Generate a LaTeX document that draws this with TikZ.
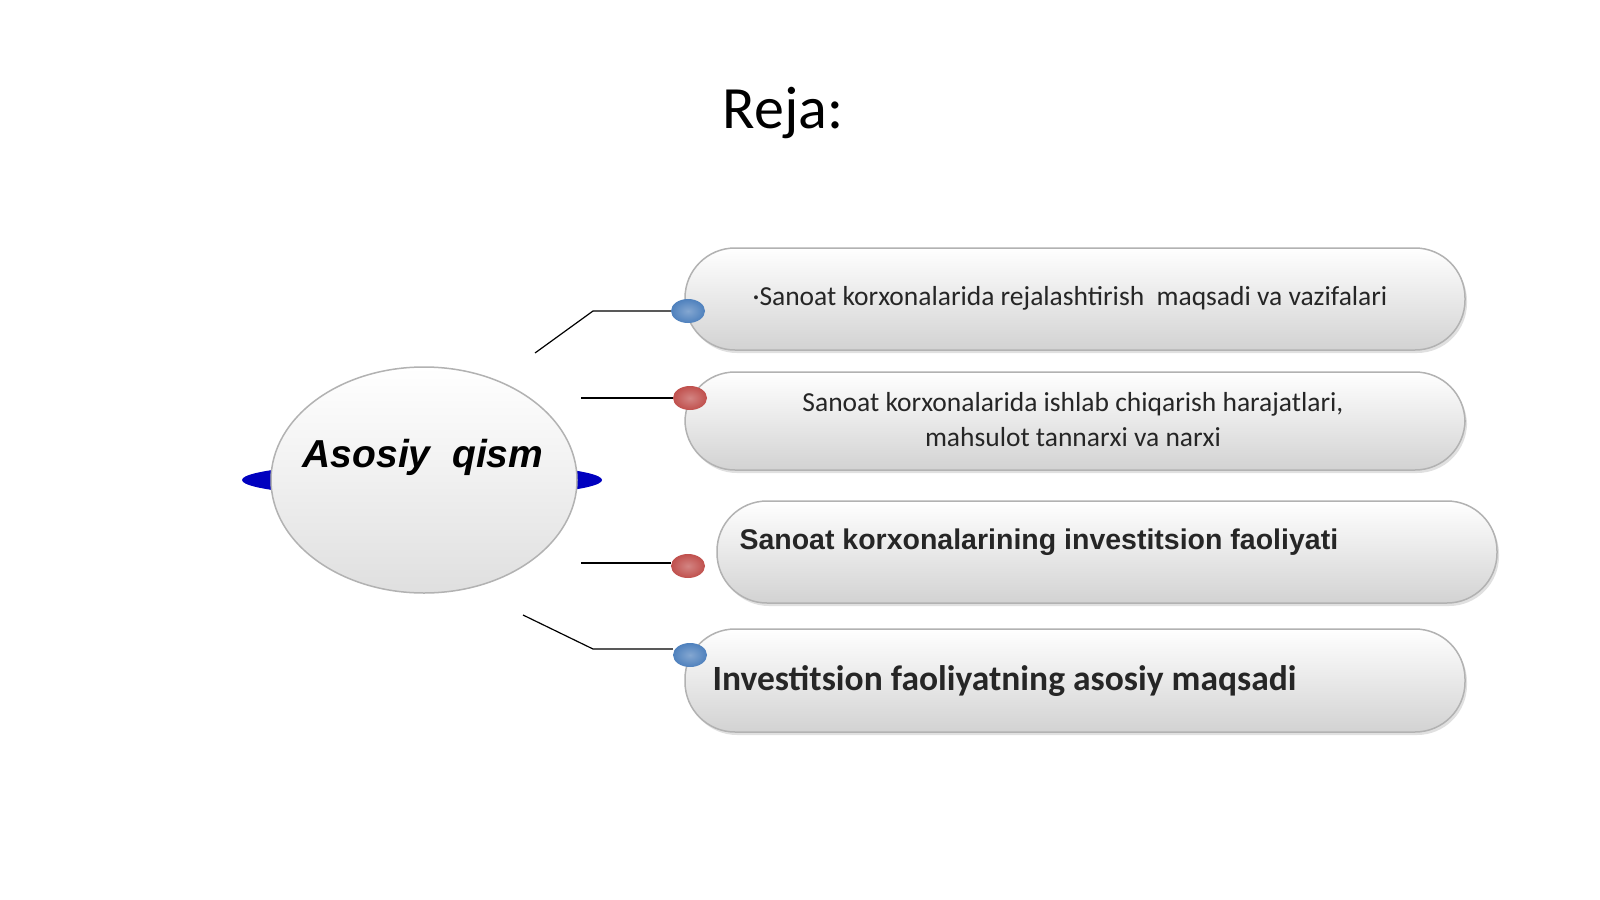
\documentclass[tikz,border=0pt]{standalone}
\usepackage{fontspec}
\setmainfont{Carlito}
\newfontfamily\arialf{Liberation Sans}
\usetikzlibrary{shapes.geometric,shadows}
\definecolor{dblue}{HTML}{4F81BD}
\definecolor{dred}{HTML}{C0504D}
\begin{document}
\begin{tikzpicture}[x=1pt,y=-1pt,
  pill/.style={draw=gray!60,line width=1.5pt,rounded corners=50pt,top color=white,bottom color=gray!35,
    drop shadow={shadow xshift=2pt,shadow yshift=-3pt,fill=gray!40,opacity=0.6}},
  dot/.style={ellipse,minimum width=34pt,minimum height=24pt,inner sep=0pt,draw=none},
  conn/.style={draw=black,line width=1.2pt},
  txt/.style={text=black!85}]
\fill[white] (0,0) rectangle (1600,899);
\begin{scope}[overlay]
\node[font=\fontsize{60}{70}\selectfont] (title) at (783,113) {Reja:};
% central
\node[ellipse,fill=blue!75!black,minimum width=360pt,minimum height=36pt,inner sep=0pt] (wing) at (422,480) {};
\node[ellipse,minimum width=306pt,minimum height=226pt,draw=gray!60,line width=1.5pt,
  top color=white,bottom color=gray!25,middle color=gray!12] (main) at (424,480) {};
\node[font=\arialf\bfseries\itshape\fontsize{39}{44}\selectfont] (mainlbl) at (423,457) {Asosiy\ \ qism};
% pills
\draw[pill] (685,248) rectangle (1465,350);
\node[txt,font=\fontsize{27.5}{32}\selectfont] (t1) at (1070,298) {·Sanoat korxonalarida rejalashtirish\ \ maqsadi va vazifalari};
\draw[pill] (685,372) rectangle (1465,470);
\node[txt,font=\fontsize{27.5}{35}\selectfont,align=center] (t2) at (1073,420) {Sanoat korxonalarida ishlab chiqarish harajatlari,\\mahsulot tannarxi va narxi};
\draw[pill] (717,501) rectangle (1497,603);
\node[txt,anchor=west,font=\arialf\bfseries\fontsize{28.5}{32}\selectfont] (t3) at (736,542) {Sanoat korxonalarining investitsion faoliyati};
\draw[pill] (685,629) rectangle (1465,732);
\node[txt,anchor=west,font=\bfseries\fontsize{35.5}{40}\selectfont] (t4) at (709,681) {Investitsion faoliyatning asosiy maqsadi};
% connectors
\coordinate (a1) at (535,353); \coordinate (b1) at (593,311);
\coordinate (a2) at (581,398); \coordinate (a3) at (581,563);
\coordinate (a4) at (523,615); \coordinate (b4) at (593,649);
\node[dot,inner color=dblue!70!white,outer color=dblue] (d1) at (688,311) {};
\node[dot,inner color=dred!70!white,outer color=dred] (d2) at (690,398) {};
\node[dot,inner color=dred!70!white,outer color=dred] (d3) at (688,566) {};
\node[dot,inner color=dblue!70!white,outer color=dblue] (d4) at (690,655) {};
\draw[conn] (a1) -- (b1) -- (d1.west);
\draw[conn] (a2) -- (d2.west);
\draw[conn] (a3) -- (a3 -| d3.west);
\draw[conn] (a4) -- (b4) -- (b4 -| d4.west);
\end{scope}
\end{tikzpicture}
\end{document}
